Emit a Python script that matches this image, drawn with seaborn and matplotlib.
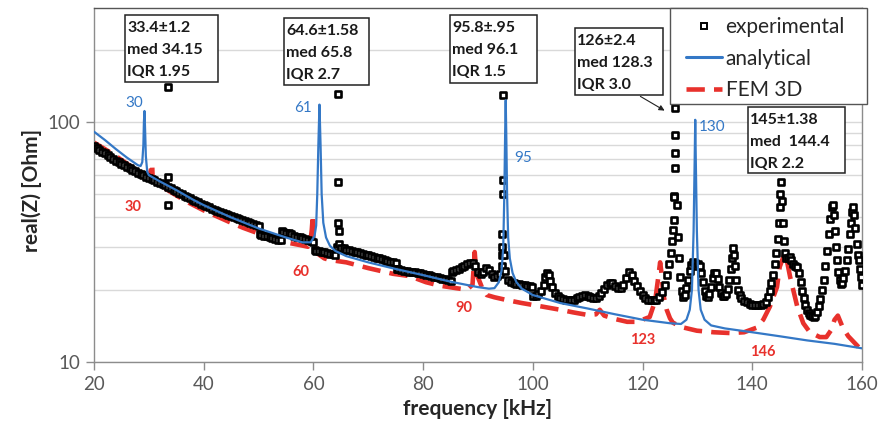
import numpy as np
import pandas as pd
import matplotlib
matplotlib.use('Agg')
import matplotlib.pyplot as plt
import seaborn as sns
from matplotlib.lines import Line2D
from matplotlib.patches import Rectangle
from matplotlib.ticker import FixedLocator, NullFormatter, FuncFormatter

sns.set_theme(style='white')
plt.rcParams['font.family'] = ['Lato', 'DejaVu Sans']

# ---------------- data ----------------
exp_freq = [
    20.0, 20.5, 21.0, 21.5, 22.0, 22.5, 23.0, 23.5, 24.0, 24.5,
    25.0, 25.5, 26.0, 26.5, 27.0, 27.5, 28.0, 28.5, 29.0, 29.5,
    30.0, 30.5, 31.0, 31.5, 32.0, 32.5, 33.0, 33.4, 33.45, 33.5,
    33.55, 34.0, 34.5, 35.0, 35.5, 36.0, 36.5, 37.0, 37.5, 38.0,
    38.5, 39.0, 39.5, 40.0, 40.5, 41.0, 41.5, 42.0, 42.5, 43.0,
    43.5, 44.0, 44.5, 45.0, 45.5, 46.0, 46.5, 47.0, 47.5, 48.0,
    48.5, 49.0, 49.5, 50.0, 50.3, 50.5, 51.0, 51.5, 52.0, 52.5,
    53.0, 53.5, 54.0, 54.3, 54.5, 55.0, 55.5, 56.0, 56.5, 57.0,
    57.5, 58.0, 58.5, 59.0, 59.5, 60.0, 60.3, 60.5, 61.0, 61.5,
    62.0, 62.5, 63.0, 63.5, 64.0, 64.3, 64.45, 64.5, 64.55, 64.6,
    64.65, 65.0, 65.5, 66.0, 66.5, 67.0, 67.5, 68.0, 68.5, 69.0,
    69.5, 70.0, 70.5, 71.0, 71.5, 72.0, 72.5, 73.0, 73.5, 74.0,
    74.5, 75.0, 75.3, 75.5, 76.0, 76.5, 77.0, 77.5, 78.0, 78.5,
    79.0, 79.5, 80.0, 80.5, 81.0, 81.5, 82.0, 82.5, 83.0, 83.5,
    84.0, 84.5, 85.0, 85.2, 85.5, 86.0, 86.5, 87.0, 87.5, 88.0,
    88.5, 89.0, 89.5, 90.0, 90.5, 91.0, 91.5, 92.0, 92.5, 93.0,
    93.5, 94.0, 94.3, 94.35, 94.4, 94.45, 94.5, 94.55, 94.6, 94.8,
    95.0, 95.5, 96.0, 96.5, 97.0, 97.5, 98.0, 98.5, 99.0, 99.5,
    99.8, 100.1, 100.5, 101.0, 101.5, 102.0, 102.3, 102.6, 102.9, 103.2,
    103.5, 104.0, 104.5, 105.0, 105.5, 106.0, 106.5, 107.0, 107.5, 108.0,
    108.5, 109.0, 109.5, 110.0, 110.5, 111.0, 111.5, 112.0, 112.5, 113.0,
    113.5, 114.0, 114.5, 115.0, 115.5, 116.0, 116.5, 117.0, 117.5, 118.0,
    118.5, 119.0, 119.5, 120.0, 120.5, 121.0, 121.5, 122.0, 122.5, 123.0,
    123.5, 124.0, 124.4, 124.8, 125.1, 125.4, 125.6, 125.7, 125.75, 125.8,
    125.85, 125.9, 125.95, 126.0, 126.3, 126.5, 126.7, 126.9, 127.1, 127.4,
    127.7, 128.0, 128.3, 128.6, 128.9, 129.2, 129.5, 129.8, 130.1, 130.4,
    130.7, 131.0, 131.3, 131.6, 131.9, 132.2, 132.5, 132.8, 133.1, 133.4,
    133.7, 134.0, 134.3, 134.6, 134.9, 135.2, 135.5, 135.8, 136.1, 136.3,
    136.5, 136.7, 136.9, 137.1, 137.4, 137.7, 138.0, 138.5, 139.0, 139.5,
    140.0, 140.5, 141.0, 141.5, 142.0, 142.5, 142.9, 143.2, 143.5, 143.8,
    144.1, 144.4, 144.6, 144.8, 145.0, 145.1, 145.2, 145.4, 145.6, 145.8,
    146.0, 146.2, 146.5, 146.8, 147.1, 147.4, 147.8, 148.2, 148.5, 148.8,
    149.1, 149.4, 149.7, 150.0, 150.3, 150.6, 150.9, 151.2, 151.5, 151.8,
    152.1, 152.4, 152.7, 153.0, 153.3, 153.6, 153.9, 154.2, 154.5, 154.7,
    154.9, 155.1, 155.3, 155.5, 155.7, 155.9, 156.1, 156.3, 156.6, 156.9,
    157.2, 157.5, 157.8, 158.0, 158.2, 158.4, 158.6, 158.8, 159.0, 159.2,
    159.4, 159.6, 159.8, 160.0,
]
exp_real = [
    79, 77.7, 76.5, 75.2, 74, 72.8, 71.5, 70.2, 69, 68,
    67, 66, 65, 64, 63, 62.2, 61.5, 60.7, 60, 59.2,
    58.5, 57.7, 57, 56.2, 55.5, 55, 54.5, 140, 59, 45,
    53.7, 53, 52.2, 51.5, 50.7, 50, 49.2, 48.5, 48, 47.5,
    46.8, 46.2, 45.6, 45, 44.5, 44, 43.5, 43, 42.5, 42,
    41.6, 41.2, 40.8, 40.5, 40.1, 39.7, 39.3, 39, 38.6, 38.3,
    37.9, 37.6, 37.3, 37, 34, 33.9, 33.6, 33.4, 33.1, 32.9,
    32.6, 32.3, 32.1, 35, 34.9, 34.6, 34.3, 34, 33.6, 33.3,
    33, 32.7, 32.4, 32.1, 31.8, 31.6, 29.2, 29, 28.9, 28.8,
    28.6, 28.5, 28.3, 28.1, 28, 30, 131, 56, 38, 35,
    31, 29.9, 29.7, 29.4, 29.2, 29, 28.8, 28.6, 28.4, 28.2,
    28, 27.8, 27.6, 27.4, 27.2, 27, 26.8, 26.6, 26.4, 26.2,
    26, 25.9, 24.4, 24.3, 24.1, 24, 23.9, 23.8, 23.7, 23.6,
    23.5, 23.4, 23.3, 23.1, 23, 22.8, 22.7, 22.5, 22.4, 22.2,
    22.1, 21.9, 21.8, 23.8, 23.9, 24.2, 24.5, 24.8, 25.2, 25.5,
    25.8, 25.9, 25, 23.8, 23.3, 23.6, 24.6, 24.2, 23.2, 22.7,
    22.8, 23.2, 25, 28, 30, 34, 50, 57, 129, 28,
    24, 22, 21.5, 21.3, 21.2, 21.1, 21, 20.9, 20.8, 20.7,
    20.6, 18.8, 18.9, 19.2, 19.7, 21, 22.5, 23.5, 23, 21.8,
    20.5, 19.4, 18.8, 18.5, 18.3, 18.2, 18.1, 18.1, 18.2, 18.4,
    18.6, 18.9, 19, 18.9, 18.7, 18.5, 18.5, 18.8, 19.4, 20.2,
    20.9, 21.3, 21.3, 20.8, 20.4, 20.4, 21, 22.3, 23.8, 23,
    21.8, 20.8, 19.8, 19, 18.5, 18.2, 18.1, 18.1, 18.2, 18.6,
    19.5, 21, 23, 25.5, 28.5, 32, 35.5, 39, 49, 48.5,
    64, 74, 88, 114, 45, 33, 27, 22.5, 19.8, 18.6,
    19, 20.3, 22, 24, 25.4, 26, 25.8, 25.2, 25.5, 25,
    23.5, 21.5, 19.8, 18.9, 18.6, 19.2, 20.5, 22.4, 23.4, 23.4,
    22.2, 20.5, 19.3, 18.8, 18.8, 19.2, 20.2, 22, 24.5, 27,
    29.8, 28, 25, 22, 20, 19, 18.4, 18, 17.7, 17.5,
    17.3, 17.2, 17.2, 17.3, 17.4, 17.8, 18.6, 19.8, 21.3, 23,
    25.5, 28.5, 32.5, 38, 44, 50, 56, 47, 38, 32,
    28.5, 27, 27, 27.5, 26.5, 25.5, 25, 24.8, 23.5, 21.5,
    19.8, 18.4, 17.3, 16.5, 16, 15.7, 15.5, 15.4, 15.6, 16.2,
    17.1, 18.3, 20, 22, 25, 29, 34, 39.5, 44, 45,
    41, 35, 30, 26.5, 23.8, 22, 21.2, 21.3, 22.3, 24,
    26.5, 29.5, 34, 38, 42, 44, 41, 36, 31, 28,
    26.5, 24.5, 22.5, 21,
]

ana_freq = [
    20, 22, 24, 26, 28, 28.5, 28.8, 29.0, 29.1, 29.2,
    29.3, 29.45, 29.7, 30, 32, 35, 38, 40, 45, 50,
    55, 58, 59.5, 60.2, 60.5, 60.7, 60.9, 61.1, 61.3, 61.5,
    61.8, 62.3, 63, 64, 66, 70, 75, 80, 85, 90,
    92, 93, 93.8, 94.3, 94.6, 94.8, 94.95, 95.05, 95.15, 95.3,
    95.5, 95.8, 96.3, 97, 98, 100, 105, 110, 115, 120,
    125, 127, 128, 128.6, 129, 129.3, 129.5, 129.6, 129.7, 129.9,
    130.2, 130.6, 131.3, 132.5, 135, 140, 145, 150, 155, 160,
]
ana_real = [
    91, 84, 77, 71, 66, 65.5, 68, 80, 100, 111,
    95, 72, 62, 60, 56.5, 52, 47.5, 45, 40, 36,
    33, 31.5, 31.5, 33.5, 37, 50, 80, 118, 80, 50,
    38, 33, 30.5, 29, 27.6, 26, 24.4, 23, 21.6, 20.5,
    20.2, 20.3, 21.5, 24, 30, 50, 90, 123, 90, 50,
    33, 27, 23.5, 21.5, 20.2, 19, 17.6, 16.7, 15.8, 15,
    14.5, 14.4, 15, 16.5, 20, 35, 70, 102, 70, 35,
    20, 16.5, 15, 14.2, 13.8, 13.3, 12.8, 12.3, 11.9, 11.4,
]

fem_freq = [
    20, 22, 24, 26, 28, 29.5, 30.0, 30.3, 30.6, 30.7,
    32, 34, 37, 40, 42.4, 45, 47.2, 50, 52.5, 55,
    57.5, 59, 59.4, 59.7, 59.9, 60.0, 60.5, 61, 62, 63,
    66, 70, 74.5, 77.5, 80.5, 83, 86, 88, 89, 89.4,
    89.6, 90, 90.7, 91.6, 93, 95.3, 98, 101.8, 105, 107.3,
    110, 111.5, 112.2, 113, 115, 117.2, 119, 121.3, 122.3, 122.8,
    123.2, 123.4, 123.8, 124.4, 125, 125.5, 127, 129.9, 133, 136,
    138.5, 140.8, 142, 143.2, 144.5, 145, 146, 146.9, 148.2, 149.3,
    150.5, 152.3, 153.5, 154.3, 155, 155.6, 156.5, 157.5, 159.6, 160,
]
fem_real = [
    82, 77, 72, 67, 62.5, 59.5, 59, 62, 67, 57,
    54.5, 51, 46.4, 42.8, 40.4, 38, 36.2, 34.3, 32.7, 31.5,
    30.7, 30.2, 31, 35.5, 41, 32, 29, 28, 27, 26.6,
    26, 24.6, 23.3, 22.8, 21.5, 20.8, 20.3, 20, 21, 28.7,
    25, 22.5, 20.5, 19, 18.6, 18.1, 17.6, 17, 16.5, 16.1,
    15.7, 15.8, 16.5, 15.6, 15.1, 14.7, 14.7, 15.4, 18, 22,
    26, 24, 19, 16.5, 15.2, 14.6, 14, 13.5, 13.3, 13.2,
    13.3, 13.9, 15, 17, 20.5, 24.9, 28.7, 22.6, 17, 14.5,
    13.3, 12.7, 12.7, 13.5, 15, 15.6, 13.9, 12.8, 11.4, 11.3,
]

x_ticks = [20, 40, 60, 80, 100, 120, 140, 160]
series_names = ['experimental', 'analytical', 'FEM 3D']
blue_peak_labels = ['30', '61', '95', '130']
red_peak_labels = ['30', '60', '90', '123', '146']
box_texts = [
    ['33.4±1.2', 'med 34.15', 'IQR 1.95'],
    ['64.6±1.58', 'med 65.8', 'IQR 2.7'],
    ['95.8±.95', 'med 96.1', 'IQR 1.5'],
    ['126±2.4', 'med 128.3', 'IQR 3.0'],
    ['145±1.38', 'med  144.4', 'IQR 2.2'],
]
assert len(exp_freq) == len(exp_real)
assert len(ana_freq) == len(ana_real)
assert len(fem_freq) == len(fem_real)

# ---------------- styling ----------------
BLUE = '#3478C6'
RED = '#E8312C'
GRAY_TXT = '#595959'

W, H = 894, 422
fig = plt.figure(figsize=(W / 100, H / 100), dpi=100)
fig.patch.set_facecolor('white')
ax = fig.add_axes([94 / W, 60 / H, 768 / W, 354 / H])
ax.set_facecolor('white')


def fx(px):
    return px / W


def fy(py):
    return 1 - py / H


# FEM 3D (dashed red), below the experimental markers
sns.lineplot(x=fem_freq, y=fem_real, sort=False, estimator=None, color=RED,
             lw=3.3, ax=ax, zorder=2)
ax.lines[-1].set_linestyle((0, (4, 2)))

# experimental (open squares)
sns.scatterplot(x=exp_freq, y=exp_real, marker='s', s=20, color='white',
                edgecolor='black', linewidth=1.9, ax=ax, zorder=3, legend=False)

# analytical (blue)
sns.lineplot(x=ana_freq, y=ana_real, sort=False, estimator=None, color=BLUE,
             lw=1.6, ax=ax, zorder=4)

# axes
ax.set_xlim(20, 160)
ax.set_yscale('log')
ax.set_ylim(10, 298)
ax.set_xticks(x_ticks)
ax.yaxis.set_major_locator(FixedLocator([10, 100]))
ax.yaxis.set_major_formatter(FuncFormatter(lambda v, _: f'{v:g}'))
ax.yaxis.set_minor_locator(FixedLocator([20, 30, 40, 50, 60, 70, 80, 90, 200]))
ax.yaxis.set_minor_formatter(NullFormatter())
ax.grid(False)
ax.yaxis.grid(True, which='both', color='#d9d9d9', lw=1)
ax.set_axisbelow(True)
ax.tick_params(axis='y', which='minor', length=0)
ax.tick_params(axis='both', which='major', length=6, width=1, color='#8c8c8c',
               labelsize=13.5, labelcolor=GRAY_TXT, direction='out', pad=4)
ax.tick_params(axis='x', which='major', bottom=True)
ax.tick_params(axis='y', which='major', left=True)
for side in ['left', 'bottom', 'right']:
    ax.spines[side].set_color('#8c8c8c')
    ax.spines[side].set_linewidth(1)
ax.spines['top'].set_color('#555555')
ax.spines['top'].set_linewidth(1)

ax.set_xlabel('frequency [kHz]', fontsize=15, fontweight='bold', color='#262626')
ax.set_ylabel('real(Z) [Ohm]', fontsize=15, fontweight='bold', color='#262626')
ax.xaxis.set_label_coords(0.5, (362 - 409) / 354)
ax.xaxis.label.set_va('center')
ax.yaxis.set_label_coords((32 - 94) / 768, (362 - 190) / 354)
ax.yaxis.label.set_va('center')

# peak labels
blue_pos = [(27.3, 120), (58.1, 114), (98.2, 70.8), (132.7, 95.3)]
for t, (x, y) in zip(blue_peak_labels, blue_pos):
    ax.text(x, y, t, color=BLUE, fontsize=11, ha='center', va='center', zorder=6)
red_pos = [(27.2, 44.2), (57.7, 23.7), (87.4, 16.8), (120.1, 12.35), (142.0, 11.0)]
for t, (x, y) in zip(red_peak_labels, red_pos):
    ax.text(x, y, t, color=RED, fontsize=10.5, fontweight='bold', ha='center',
            va='center', zorder=6)

# statistics boxes (pixel boxes: left, top, right, bottom)
boxes_px = [(125, 15, 218, 82), (284, 18, 369, 85), (450, 15, 537, 83),
            (575, 28, 663, 95), (748, 107, 845, 173)]
for (l, t, r, b), lines in zip(boxes_px, box_texts):
    ax.add_patch(Rectangle((fx(l), fy(b)), (r - l) / W, (b - t) / H,
                           transform=fig.transFigure, fc='white', ec='#222222',
                           lw=1.1, clip_on=False, zorder=7))
    for i, line in enumerate(lines):
        ax.text(fx(l + 2), fy(t + 13 + 22 * i), line, transform=fig.transFigure,
                fontsize=11.5, fontweight='bold', color='#1a1a1a', ha='left',
                va='center', zorder=8)

ax.annotate('', xy=(fx(667), fy(112)), xytext=(fx(638), fy(95)),
            xycoords='figure fraction', textcoords='figure fraction',
            arrowprops=dict(arrowstyle='-|>', color='#222222', lw=0.8,
                            mutation_scale=8), zorder=8)

# legend with a manual frame
ax.add_patch(Rectangle((fx(670), fy(104)), 197 / W, 96 / H,
                       transform=fig.transFigure, fc='white', ec='#555555',
                       lw=1, clip_on=False, zorder=7))
handles = [
    Line2D([], [], marker='s', ls='none', mfc='white', mec='black', ms=5, mew=1.4),
    Line2D([], [], color=BLUE, lw=2.2),
    Line2D([], [], color=RED, lw=3.3, linestyle=(0, (4, 2))),
]
leg = ax.legend(handles, series_names, loc='upper left',
                bbox_to_anchor=(fx(686), fy(17)), bbox_transform=fig.transFigure,
                frameon=False, borderpad=0, borderaxespad=0, handlelength=1.75,
                handletextpad=0.15, labelspacing=0.56, fontsize=15,
                labelcolor='#262626')
leg.set_zorder(9)

fig.savefig('out.png', dpi=100, facecolor='white')
